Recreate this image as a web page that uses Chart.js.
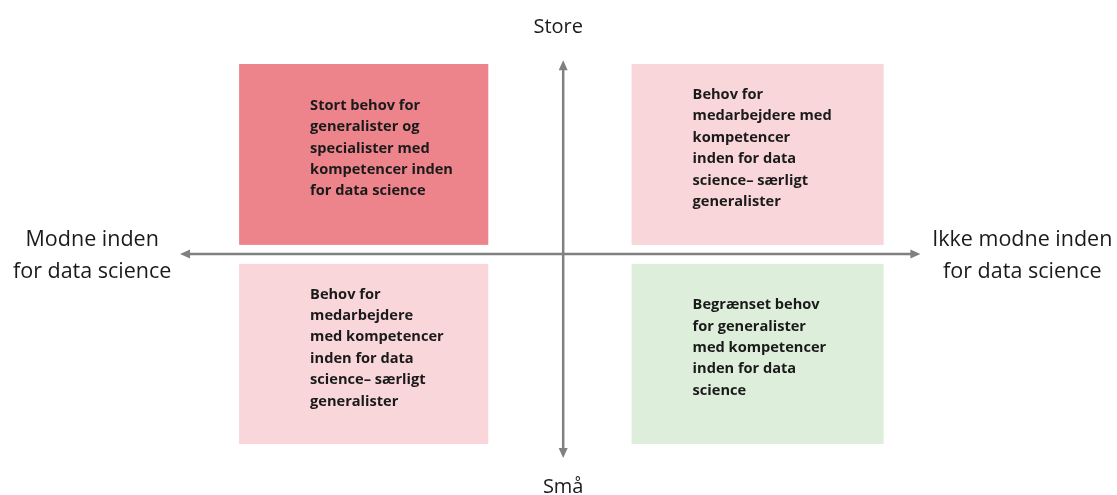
<!DOCTYPE html>
<html>
<head>
<meta charset="utf-8">
<script src="https://cdn.jsdelivr.net/npm/chart.js@4"></script>
<style>
  html, body { margin: 0; padding: 0; background: #fff; }
  canvas { display: block; }
</style>
</head>
<body>
<canvas id="quad" width="1117" height="495"></canvas>
<script>
// ---------------------------------------------------------------------------
//  Kvadrant: behov for data science-kompetencer
// ---------------------------------------------------------------------------

// quadrant boxes in axis units (x: modenhed, y: behov)
const boxX0 = [-4.5, 0.95, -4.5, 0.95];
const boxX1 = [-1.04, 4.45, -1.04, 4.45];
const boxY0 = [0.24, 0.24, -5.0, -5.0];
const boxY1 = [5.0, 5.0, -0.26, -0.26];
const boxColors = ['#ED848B', '#F8D6D9', '#F8D6D9', '#DDEEDA'];
const boxTexts = [
    ['Stort behov for', 'generalister og', 'specialister med', 'kompetencer inden', 'for data science'],
    ['Behov for', 'medarbejdere med', 'kompetencer', 'inden for data', 'science\u2013 s\u00e6rligt', 'generalister'],
    ['Behov for', 'medarbejdere', 'med kompetencer', 'inden for data', 'science\u2013 s\u00e6rligt', 'generalister'],
    ['Begr\u00e6nset behov', 'for generalister', 'med kompetencer', 'inden for data', 'science']
];

// axis arrows
const xAxisRange = [-5.32, 4.96];
const yAxisRange = [-5.37, 5.1];

// axis end labels
const labelTop = ['Store'];
const labelBottom = ['Sm\u00e5'];
const labelLeft = ['Modne inden', 'for data science'];
const labelRight = ['Ikke modne inden', 'for data science'];

const AXIS_COLOR = '#808080';
const TEXT_COLOR = '#1a1a1a';

function arrowHead(ctx, x, y, angle) {
    const len = 10, half = 4.5;
    ctx.save();
    ctx.translate(x, y);
    ctx.rotate(angle);
    ctx.beginPath();
    ctx.moveTo(0, 0);
    ctx.lineTo(-len, -half);
    ctx.lineTo(-len, half);
    ctx.closePath();
    ctx.fill();
    ctx.restore();
}

function drawLines(ctx, lines, x, y, lineH) {
    lines.forEach((t, i) => ctx.fillText(t, x, y + i * lineH));
}

const quadrantPlugin = {
    id: 'quadrant',
    beforeDatasetsDraw(chart) {
        const ctx = chart.ctx;
        const sx = chart.scales.x;
        const sy = chart.scales.y;
        ctx.save();

        // boxes + text
        boxColors.forEach((color, i) => {
            const left = sx.getPixelForValue(boxX0[i]);
            const right = sx.getPixelForValue(boxX1[i]);
            const top = sy.getPixelForValue(boxY1[i]);
            const bottom = sy.getPixelForValue(boxY0[i]);
            ctx.fillStyle = color;
            ctx.fillRect(left, top, right - left, bottom - top);

            const lines = boxTexts[i];
            const lineH = 21.4;
            const indent = i % 2 === 0 ? 71 : 61;
            const cy = (top + bottom) / 2 - 6;
            const y0 = cy - (lines.length - 1) * lineH / 2;
            ctx.fillStyle = TEXT_COLOR;
            ctx.font = 'bold 14.6px "Open Sans"';
            ctx.textAlign = 'left';
            ctx.textBaseline = 'middle';
            drawLines(ctx, lines, left + indent, y0, lineH);
        });

        // axes
        const x0 = sx.getPixelForValue(0);
        const y0 = sy.getPixelForValue(0);
        const xl = sx.getPixelForValue(xAxisRange[0]);
        const xr = sx.getPixelForValue(xAxisRange[1]);
        const yt = sy.getPixelForValue(yAxisRange[1]);
        const yb = sy.getPixelForValue(yAxisRange[0]);
        ctx.strokeStyle = AXIS_COLOR;
        ctx.fillStyle = AXIS_COLOR;
        ctx.lineWidth = 2.5;
        ctx.beginPath();
        ctx.moveTo(xl + 6, y0);
        ctx.lineTo(xr - 6, y0);
        ctx.moveTo(x0, yt + 6);
        ctx.lineTo(x0, yb - 6);
        ctx.stroke();
        arrowHead(ctx, xl, y0, Math.PI);
        arrowHead(ctx, xr, y0, 0);
        arrowHead(ctx, x0, yt, -Math.PI / 2);
        arrowHead(ctx, x0, yb, Math.PI / 2);

        // end labels
        ctx.fillStyle = TEXT_COLOR;
        ctx.textAlign = 'center';
        ctx.textBaseline = 'middle';
        ctx.font = '20px "Open Sans"';
        drawLines(ctx, labelTop, x0 - 5, sy.getPixelForValue(5.97), 32);
        drawLines(ctx, labelBottom, x0, sy.getPixelForValue(-6.13), 32);
        ctx.font = '21.5px "Open Sans"';
        drawLines(ctx, labelLeft, sx.getPixelForValue(-6.54), y0 - 14, 32);
        drawLines(ctx, labelRight, sx.getPixelForValue(6.375), y0 - 14, 32);

        ctx.restore();
    }
};

new Chart(document.getElementById('quad'), {
    type: 'scatter',
    data: { datasets: [] },
    options: {
        responsive: false,
        animation: false,
        layout: { padding: 0 },
        plugins: { legend: { display: false }, tooltip: { enabled: false } },
        scales: {
            x: { type: 'linear', min: -7.82, max: 7.69, display: false },
            y: { type: 'linear', min: -6.342, max: 6.684, display: false }
        }
    },
    plugins: [quadrantPlugin]
});
</script>
</body>
</html>
